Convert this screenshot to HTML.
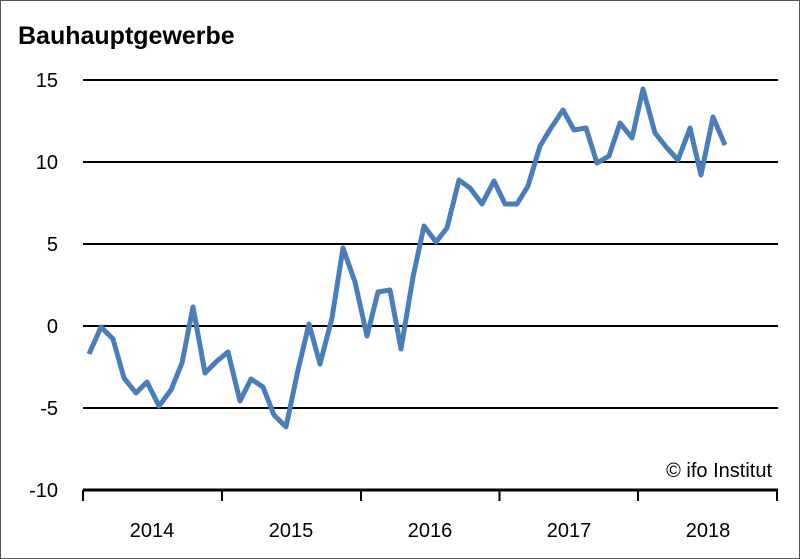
<!DOCTYPE html>
<html><head><meta charset="utf-8"><style>
html,body{margin:0;padding:0;background:#fff;}
svg{display:block;}
text{font-family:"Liberation Sans",sans-serif;fill:#000;}
</style></head><body>
<svg width="800" height="559" viewBox="0 0 800 559">
<rect x="0.5" y="0.5" width="799" height="558" fill="#fff" stroke="#555" stroke-width="1"/>
<text x="18" y="44" font-size="25" font-weight="bold">Bauhauptgewerbe</text>
<g stroke="#000" stroke-width="2">
<line x1="83" y1="80" x2="778" y2="80"/>
<line x1="83" y1="162" x2="778" y2="162"/>
<line x1="83" y1="244" x2="778" y2="244"/>
<line x1="83" y1="326" x2="778" y2="326"/>
<line x1="83" y1="408" x2="778" y2="408"/>
<line x1="83" y1="490" x2="778" y2="490" stroke-width="3"/>
<line x1="83" y1="490" x2="83" y2="501"/>
<line x1="222" y1="490" x2="222" y2="501"/>
<line x1="361" y1="490" x2="361" y2="501"/>
<line x1="499.5" y1="490" x2="499.5" y2="501"/>
<line x1="638" y1="490" x2="638" y2="501"/>
<line x1="777" y1="490" x2="777" y2="501"/>
</g>
<g font-size="20" text-anchor="end">
<text x="58" y="87">15</text>
<text x="58" y="169">10</text>
<text x="58" y="251">5</text>
<text x="58" y="333">0</text>
<text x="58" y="415">-5</text>
<text x="58" y="497">-10</text>
</g>
<g font-size="20" text-anchor="middle">
<text x="152" y="537">2014</text>
<text x="291" y="537">2015</text>
<text x="430" y="537">2016</text>
<text x="569" y="537">2017</text>
<text x="708" y="537">2018</text>
</g>
<text x="772" y="477" font-size="20" text-anchor="end">© ifo Institut</text>
<polyline fill="none" stroke="#4a7ebb" stroke-width="5" stroke-linejoin="round" points="
89,354 101,327 113,339 124,378 136,393 147,382 159,406 171,390 182,363 193,307 205,373 217,361
228,352 240,401 251,379 263,387 274,415 286,427 298,370 309,324 320,364 332,318 343,248 355,282
367,336 378,292 390,290 401,349 413,277 424,226 436,242 447,228 459,180 470,188 482,204 494,181
505,204 517,204 528,186 540,146 551,128 563,110 574,130 586,128 597,163 609,156 620,123 632,138
643,89 655,133 667,148 678,160 690,128 701,175 713,117 725,145"/>
</svg>
</body></html>
